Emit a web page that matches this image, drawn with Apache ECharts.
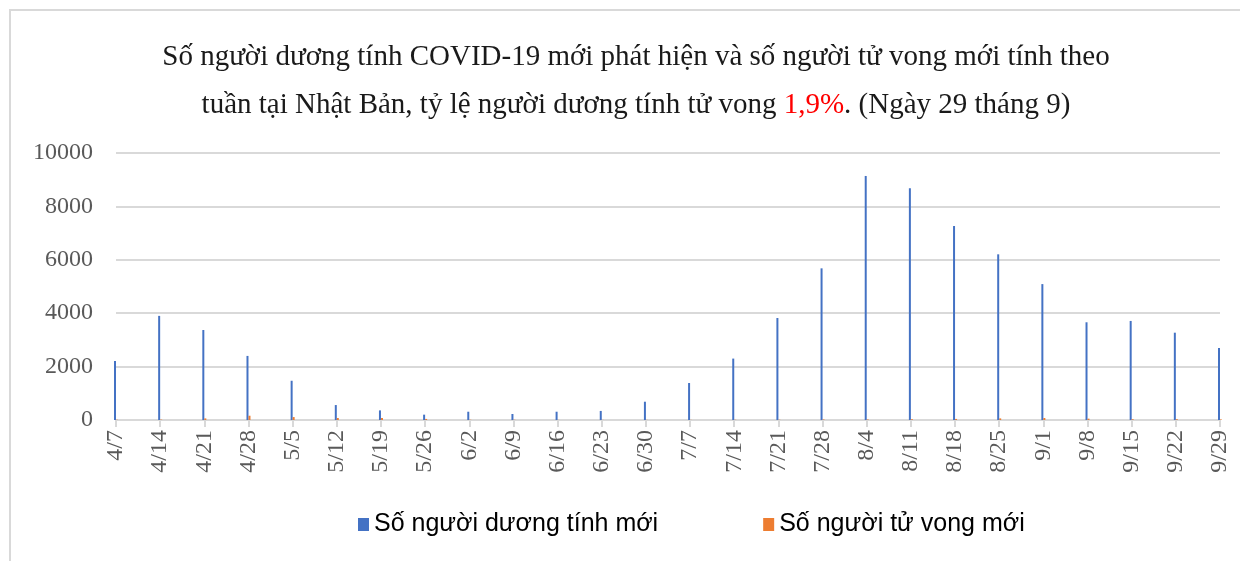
<style>
html, body { margin: 0; padding: 0; background: #fff; }
#chartElem { width: 1240px; height: 561px; }
</style>

<div id="chartElem"></div>

<script src="https://cdn.jsdelivr.net/npm/echarts@6/dist/echarts.min.js"></script>

<script>

let weeks = ["4/7", "4/14", "4/21", "4/28", "5/5", "5/12", "5/19", "5/26", "6/2", "6/9",
	"6/16", "6/23", "6/30", "7/7", "7/14", "7/21", "7/28", "8/4", "8/11", "8/18",
	"8/25", "9/1", "9/8", "9/15", "9/22", "9/29"];

let newCases = [2210, 3900, 3370, 2400, 1470, 560, 360, 200, 310, 225,
	310, 340, 685, 1385, 2300, 3820, 5680, 9140, 8680, 7265,
	6205, 5090, 3660, 3710, 3270, 2700];

let newDeaths = [10, 15, 60, 160, 110, 75, 75, 40, 10, 10,
	5, 5, 5, 5, 10, 10, 20, 20, 30, 40,
	60, 75, 50, 30, 30, 20];

let yTicks = [0, 2000, 4000, 6000, 8000, 10000];

let serif = "'Liberation Serif', 'DejaVu Serif', serif";

let chart = echarts.init(document.getElementById("chartElem"));

chart.setOption({
	animation: false,
	title: {
		text: "Số người dương tính COVID-19 mới phát hiện và số người tử vong mới tính theo\ntuần tại Nhật Bản, tỷ lệ người dương tính tử vong {r|1,9%}. (Ngày 29 tháng 9)",
		left: 631,
		textAlign: "center",
		top: 28,
		textStyle: {
			fontFamily: serif,
			fontSize: 29,
			fontWeight: "normal",
			color: "#1a1a1a",
			lineHeight: 48,
			rich: {
				r: { color: "#ff0000", fontFamily: serif, fontSize: 29, lineHeight: 48 }
			}
		}
	},
	graphic: [{
		type: "rect",
		shape: { x: 10, y: 10, width: 1260, height: 600 },
		style: { fill: "none", stroke: "#d9d9d9", lineWidth: 2 },
		silent: true
	}],
	legend: {
		left: 353,
		top: 507,
		itemWidth: 11,
		itemHeight: 13,
		itemGap: 105,
		textStyle: {
			fontFamily: "'Liberation Sans', Arial, sans-serif",
			fontSize: 25,
			color: "#000"
		},
		data: [
			{ name: "Số người dương tính mới", icon: "rect" },
			{ name: "Số người tử vong mới", icon: "rect" }
		]
	},
	grid: {
		left: 116,
		right: 20,
		top: 153,
		bottom: 141
	},
	xAxis: {
		type: "category",
		data: weeks,
		boundaryGap: false,
		axisLine: { lineStyle: { color: "#d9d9d9", width: 2 } },
		axisTick: { show: true, length: 7, lineStyle: { color: "#d9d9d9", width: 2 } },
		axisLabel: {
			rotate: 90,
			margin: 10,
			fontFamily: serif,
			fontSize: 24,
			color: "#595959"
		}
	},
	yAxis: {
		type: "value",
		min: yTicks[0],
		max: yTicks[yTicks.length - 1],
		interval: 2000,
		axisLine: { show: false },
		axisTick: { show: false },
		axisLabel: {
			margin: 23,
			fontFamily: serif,
			fontSize: 24,
			color: "#595959",
			formatter: v => String(v)
		},
		splitLine: { lineStyle: { color: "#d9d9d9", width: 2 } }
	},
	series: [
		{
			name: "Số người dương tính mới",
			type: "bar",
			data: newCases,
			barWidth: 2,
			barGap: "0%",
			itemStyle: { color: "#4472c4" }
		},
		{
			name: "Số người tử vong mới",
			type: "bar",
			data: newDeaths,
			barWidth: 2,
			itemStyle: { color: "#ed7d31" }
		}
	]
});

</script>
